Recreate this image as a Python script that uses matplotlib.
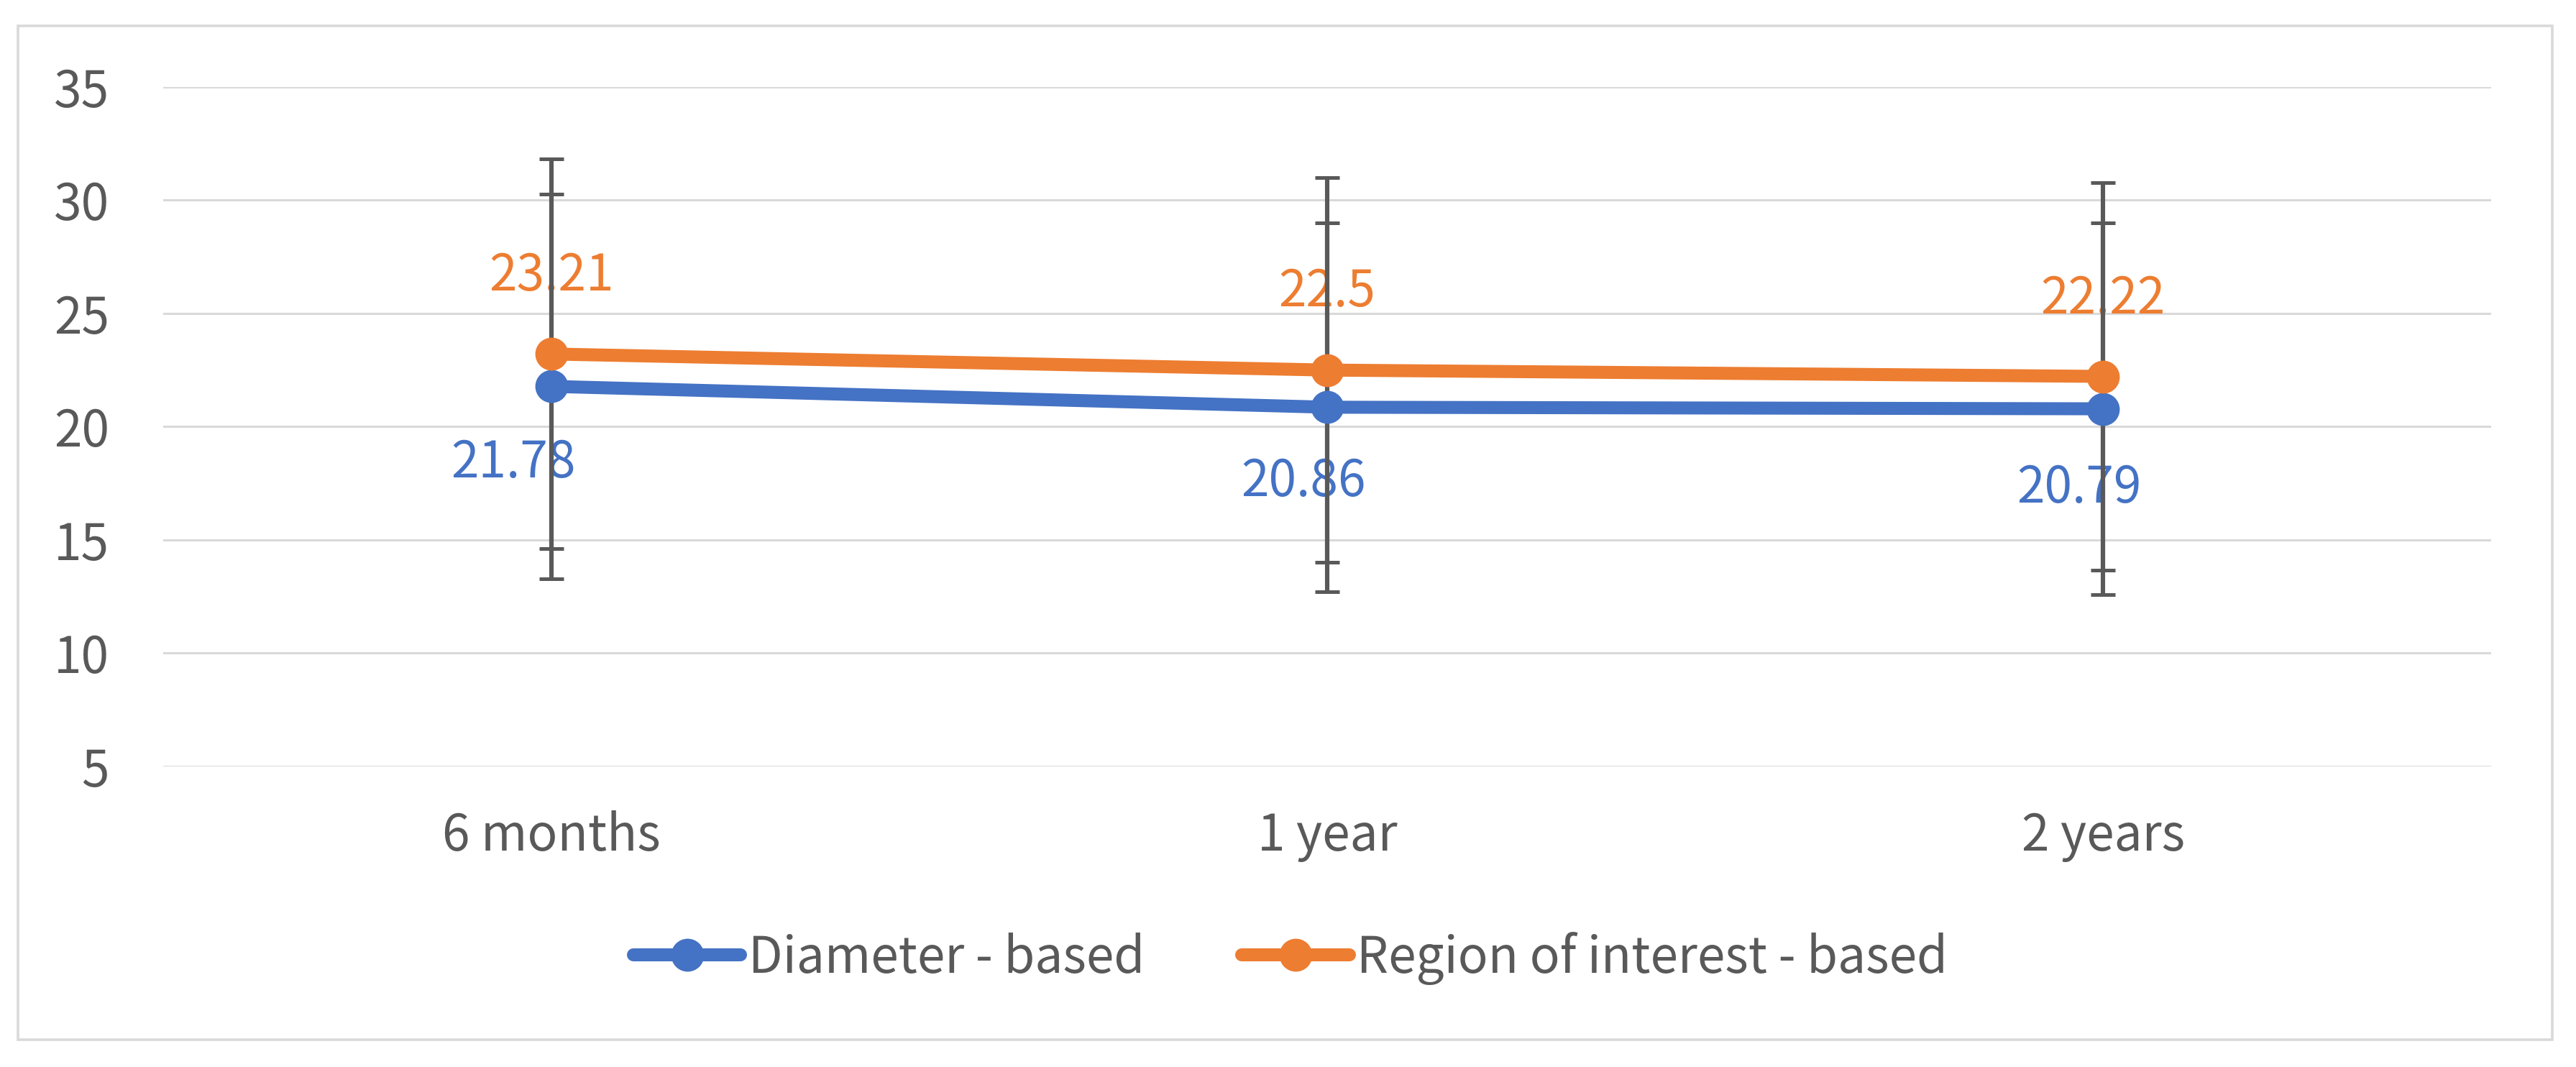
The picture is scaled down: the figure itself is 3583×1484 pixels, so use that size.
import numpy as np
import matplotlib.pyplot as plt
from matplotlib.patches import Rectangle

plt.rcParams['font.family'] = ['Noto Sans CJK KR', 'DejaVu Sans']

# data
periods = ['6 months', '1 year', '2 years']
diameter_mean = [21.78, 20.86, 20.79]
diameter_sd = [8.5, 8.15, 8.2]
roi_mean = [23.21, 22.5, 22.22]
roi_sd = [8.6, 8.5, 8.55]
series_names = ['Diameter - based', 'Region of interest - based']

blue = '#4472C4'
orange = '#ED7D31'
grey_text = '#595959'

# label nudges in points (blue labels were shifted left in the original)
blue_offsets = [(-19, -38.5), (-12, -37.5), (-12, -40)]
orange_offsets = [(0, 39), (0, 39), (0, 38.5)]

fig = plt.figure(figsize=(17.915, 7.42), dpi=200)
ax = fig.add_axes([0.0634, 0.2817, 0.9037, 0.6368])

x = np.arange(len(periods))

ax.errorbar(x, diameter_mean, yerr=diameter_sd, fmt='none', ecolor='#595959',
            elinewidth=2.2, capsize=6, capthick=1.8, zorder=3)
ax.errorbar(x, roi_mean, yerr=roi_sd, fmt='none', ecolor='#595959',
            elinewidth=2.2, capsize=6, capthick=1.8, zorder=3)

ax.plot(x, diameter_mean, color=blue, lw=6.5, marker='o', ms=15.5,
        label=series_names[0], zorder=4, solid_capstyle='round')
ax.plot(x, roi_mean, color=orange, lw=6.5, marker='o', ms=15.5,
        label=series_names[1], zorder=4, solid_capstyle='round')

for i in range(len(periods)):
    ax.annotate(f'{diameter_mean[i]:g}', (x[i], diameter_mean[i]), xytext=blue_offsets[i],
                textcoords='offset points', ha='center', va='center',
                color=blue, fontsize=25, zorder=2)
    ax.annotate(f'{roi_mean[i]:g}', (x[i], roi_mean[i]), xytext=orange_offsets[i],
                textcoords='offset points', ha='center', va='center',
                color=orange, fontsize=25, zorder=2)

ax.set_xlim(-0.5, 2.5)
ax.set_ylim(5, 35)
ax.set_yticks(np.arange(5, 36, 5))
ax.set_xticks(x)
ax.set_xticklabels(periods)
ax.tick_params(axis='both', length=0, labelsize=25, labelcolor=grey_text)
ax.tick_params(axis='y', pad=27)
ax.tick_params(axis='x', pad=22)
ax.grid(axis='y', color='#D9D9D9', lw=1.1, zorder=0)
ax.set_axisbelow(True)
for s in ax.spines.values():
    s.set_visible(False)

fig.legend(loc='center', bbox_to_anchor=(0.501, 0.102), ncol=2, frameon=False,
           fontsize=25, labelcolor=grey_text, handlelength=2.15,
           handletextpad=0.15, columnspacing=1.95)

# outer chart border
fig.patches.append(Rectangle((25 / 3583, 1 - 1446 / 1484), 3525 / 3583, 1410 / 1484,
                             transform=fig.transFigure, fill=False,
                             edgecolor='#D9D9D9', lw=1.3))

fig.savefig('out.png', dpi=200)
